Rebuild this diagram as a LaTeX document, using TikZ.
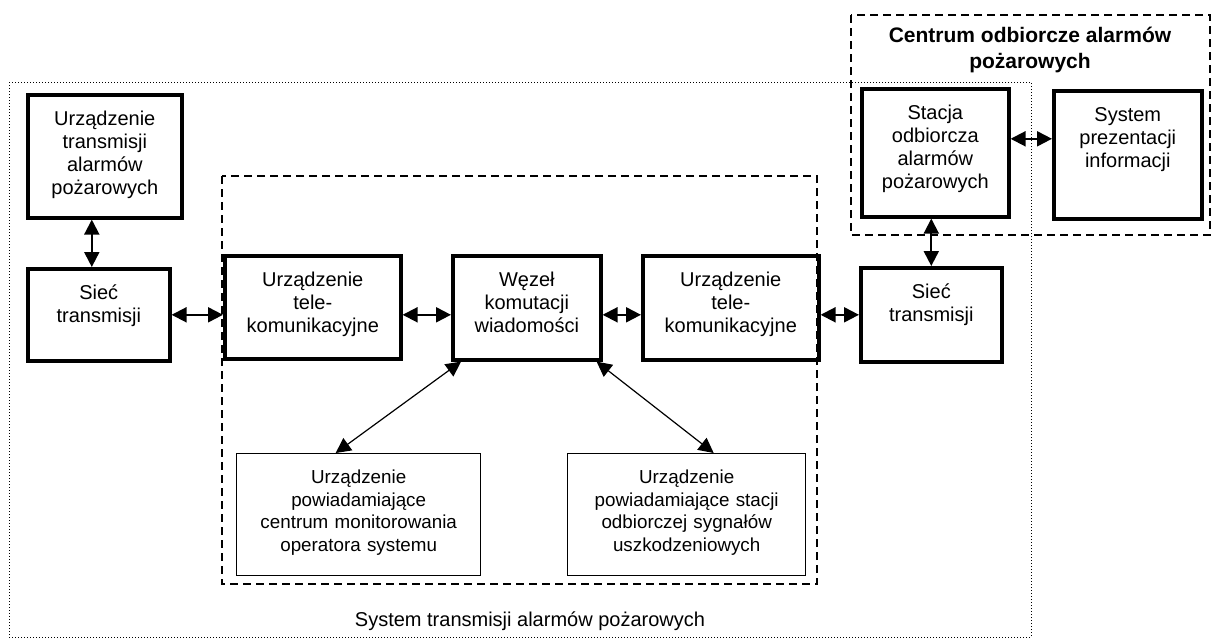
\documentclass[tikz,border=0pt]{standalone}
\usepackage{fontspec}
\setmainfont{Liberation Sans}
\usetikzlibrary{arrows.meta}

\begin{document}
\begin{tikzpicture}[x=0.5pt, y=-0.5pt, >={Triangle[length=7.5pt,width=7.5pt]}]
\tikzset{
    gruby/.style= {draw, line width=1.8pt, anchor=north west, align=center, inner xsep=1pt, inner ysep=0pt, text height=15.5pt, font=\fontsize{10}{11.5}\selectfont},
    cienki/.style= {draw, line width=0.7pt, anchor=north west, align=center, inner xsep=1pt, inner ysep=0pt, text height=15pt, font=\fontsize{9.4}{11.3}\selectfont},
    rozm/.style 2 args= {text width=#1, text depth=#2},
    strz/.style= {<->, line width=1pt},
    ukos/.style= {<->, line width=0.6pt},
    ramka/.style= {line width=0.8pt, dash pattern=on 4pt off 2.5pt},
    kropki/.style= {line width=0.5pt, dash pattern=on 0.5pt off 1pt},
}
\useasboundingbox (0,0) rectangle (1217,639);

\draw[kropki] (9,82) rectangle (1031,637);
\draw[ramka] (222,176) rectangle (817,584);
\draw[ramka] (851,15) rectangle (1210,235);

\node[gruby, rozm={75pt}{46pt}] (urz) at (26,93) {Urządzenie\\transmisji\\alarmów\\pożarowych};
\node[gruby, rozm={69pt}{30.5pt}] (siec1) at (26,267) {Sieć\\transmisji};
\node[gruby, rozm={86pt}{36pt}] (tel1) at (223,254) {Urządzenie\\tele-\\komunikacyjne};
\node[gruby, rozm={72pt}{36.5pt}] (wezel) at (451,254) {Węzeł\\komutacji\\wiadomości};
\node[gruby, rozm={86pt}{36.5pt}] (tel2) at (641,254) {Urządzenie\\tele-\\komunikacyjne};
\node[gruby, rozm={68.5pt}{31.5pt}] (siec2) at (859,266) {Sieć\\transmisji};
\node[gruby, rozm={71.5pt}{48.5pt}] (stacja) at (860,87) {Stacja\\odbiorcza\\alarmów\\pożarowych};
\node[gruby, rozm={72pt}{48.5pt}] (prez) at (1052,89) {System\\prezentacji\\informacji};

\node[cienki, rozm={120pt}{46pt}] (pow1) at (236,453) {Urządzenie\\powiadamiające\\centrum monitorowania\\operatora systemu};
\node[cienki, rozm={117pt}{46pt}] (pow2) at (567,453) {Urządzenie\\powiadamiające stacji\\odbiorczej sygnałów\\uszkodzeniowych};

\node[font=\bfseries\fontsize{10.5}{13}\selectfont, align=center] (centrum) at (1030,50) {Centrum odbiorcze alarmów\\pożarowych};
\node[font=\fontsize{10}{12}\selectfont] (system) at (530,621) {System transmisji alarmów pożarowych};

\draw[strz] ([xshift=-3.5pt]siec1.north) -- ([xshift=-3.5pt]siec1.north |- urz.south);
\draw[strz] (siec1.east) -- (siec1.east -| tel1.west);
\draw[strz] (tel1.east |- siec1.east) -- (wezel.west |- siec1.east);
\draw[strz] (wezel.east |- siec1.east) -- (tel2.west |- siec1.east);
\draw[strz] (tel2.east |- siec1.east) -- (siec2.west |- siec1.east);
\draw[strz] (siec2.north) -- (siec2.north |- stacja.south);
\draw[strz] ([yshift=7pt]stacja.east) -- ([yshift=7pt]stacja.east -| prez.west);
\draw[ukos] ([xshift=5pt]wezel.south west) -- ([xshift=-11.5pt]pow1.north);
\draw[ukos] ([xshift=-3pt]wezel.south east) -- ([xshift=13.5pt]pow2.north);
\end{tikzpicture}
\end{document}
